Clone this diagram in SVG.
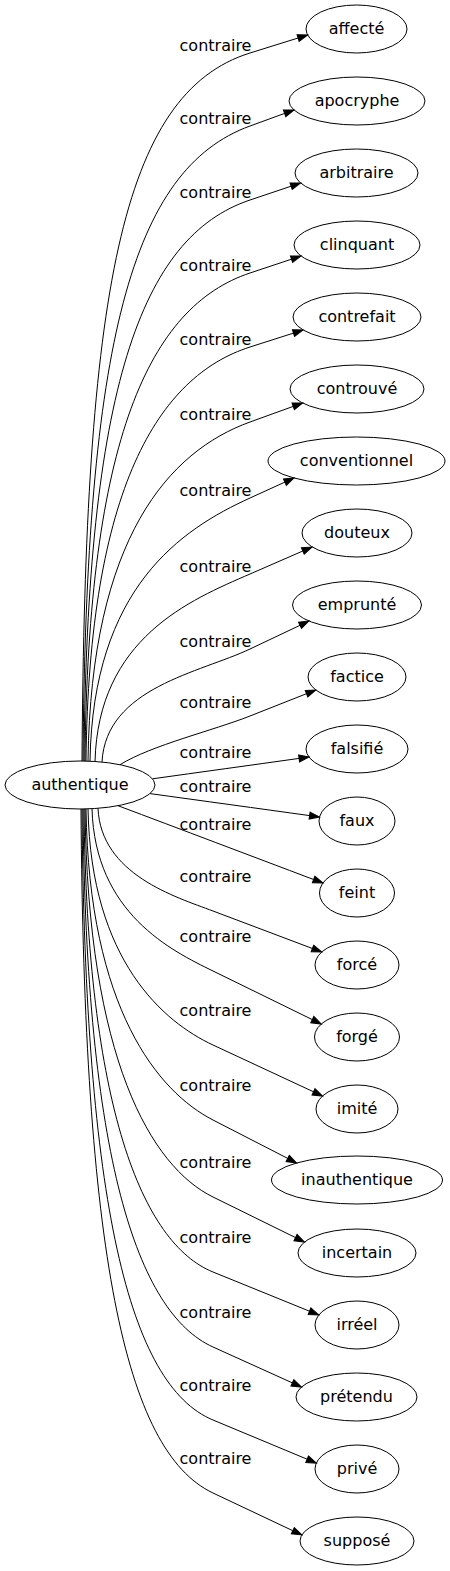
<svg xmlns="http://www.w3.org/2000/svg" width="450" height="1571" viewBox="0 0 450 1571">
<style>
.n ellipse{fill:none;stroke:#000;stroke-width:1}
text{font-family:"DejaVu Sans",sans-serif;font-size:16px;fill:#000;text-anchor:middle}
.e path{fill:none;stroke:#000;stroke-width:1;marker-end:url(#ah)}
</style>
<defs>
<marker id="ah" viewBox="0 0 10 7" refX="0" refY="3.5" markerWidth="10" markerHeight="7" markerUnits="userSpaceOnUse" orient="auto" overflow="visible"><path d="M0,0 L10,3.5 L0,7 Z" fill="#000" stroke="#000" stroke-width="1"/></marker>
</defs>
<rect width="450" height="1571" fill="#fff"/>
<g id="edges" class="e">
<path d="M82,761 C85,293.7 120.6,93.4 250,53 L298.1,38"/>
<path d="M83,761 C86,341.9 131.8,169 250,126 L284.6,113.4"/>
<path d="M84,761 C87,390.7 140.3,236.8 250,200 L291.1,186.2"/>
<path d="M85,761 C88,438.9 149.5,306.5 250,273 L291.5,259.2"/>
<path d="M86,761 C89,487.8 158.7,376.2 250,347 L293.5,333.1"/>
<path d="M88,761 C91,537.3 169.3,451.2 250,422 L293.2,406.4"/>
<path d="M90,761 C93,587.4 181.3,529.3 250,498 L284.9,482.1"/>
<path d="M95,762 C98,638 190,600.1 250,574 L302.8,551"/>
<path d="M102,762 C106,687.4 200.1,672.7 250,649 L300,625.3"/>
<path d="M120,764.7 C152,745 212.8,730.7 250,716 L306.5,693.7"/>
<path d="M152.5,778.8 C200,772.2 250,765.3 299.1,758.4"/>
<path d="M150,793.6 C200,800.5 260,808.7 309.6,815.6"/>
<path d="M118,805.7 C180,829 250,855.5 313.6,879.5"/>
<path d="M98,808.3 C101,874.5 175.3,896.8 213,911 L312.4,948.5"/>
<path d="M92,808.7 C95,913.4 171.5,950.7 213,971 L312.3,1019.6"/>
<path d="M88,809 C91,961.2 164.4,1022.4 213,1045 L313.5,1091.8"/>
<path d="M86,809 C89,1009.6 158.7,1092.1 213,1120 L287.7,1158.4"/>
<path d="M85,809 C88,1059.3 151.3,1166.7 213,1197 L295.5,1237.6"/>
<path d="M84,809 C87,1107.6 142.3,1243.2 213,1272 L309.5,1311.2"/>
<path d="M83,809 C86,1156 136.7,1312.5 213,1347 L292.4,1382.9"/>
<path d="M82,809 C85,1203.1 128.9,1385 213,1420 L307.1,1459.2"/>
<path d="M81,809 C84,1250.2 124,1450.9 213,1493 L292.8,1530.7"/>
</g>
<g id="labels">
<text x="215.5" y="51">contraire</text>
<text x="215.5" y="124">contraire</text>
<text x="215.5" y="198">contraire</text>
<text x="215.5" y="271">contraire</text>
<text x="215.5" y="345">contraire</text>
<text x="215.5" y="420">contraire</text>
<text x="215.5" y="496">contraire</text>
<text x="215.5" y="572">contraire</text>
<text x="215.5" y="647">contraire</text>
<text x="215.5" y="708">contraire</text>
<text x="215.5" y="758">contraire</text>
<text x="215.5" y="792">contraire</text>
<text x="215.5" y="830">contraire</text>
<text x="215.5" y="882">contraire</text>
<text x="215.5" y="942">contraire</text>
<text x="215.5" y="1016">contraire</text>
<text x="215.5" y="1091">contraire</text>
<text x="215.5" y="1168">contraire</text>
<text x="215.5" y="1243">contraire</text>
<text x="215.5" y="1318">contraire</text>
<text x="215.5" y="1391">contraire</text>
<text x="215.5" y="1464">contraire</text>
</g>
<g id="authentique" class="n"><ellipse cx="80" cy="785" rx="75" ry="24"/><text x="80" y="790">authentique</text></g>
<g id="affecte" class="n"><ellipse cx="356.5" cy="29" rx="50.5" ry="24"/><text x="356.5" y="34">affecté</text></g>
<g id="apocryphe" class="n"><ellipse cx="357" cy="101" rx="68" ry="24"/><text x="357" y="106">apocryphe</text></g>
<g id="arbitraire" class="n"><ellipse cx="356.5" cy="173" rx="61.5" ry="24"/><text x="356.5" y="178">arbitraire</text></g>
<g id="clinquant" class="n"><ellipse cx="357" cy="245" rx="63" ry="24"/><text x="357" y="250">clinquant</text></g>
<g id="contrefait" class="n"><ellipse cx="357" cy="317" rx="64" ry="24"/><text x="357" y="322">contrefait</text></g>
<g id="controuve" class="n"><ellipse cx="357" cy="389" rx="67" ry="24"/><text x="357" y="394">controuvé</text></g>
<g id="conventionnel" class="n"><ellipse cx="356.5" cy="461" rx="88.5" ry="24"/><text x="356.5" y="466">conventionnel</text></g>
<g id="douteux" class="n"><ellipse cx="357" cy="533" rx="55" ry="24"/><text x="357" y="538">douteux</text></g>
<g id="emprunte" class="n"><ellipse cx="357" cy="605" rx="64.5" ry="24"/><text x="357" y="610">emprunté</text></g>
<g id="factice" class="n"><ellipse cx="357" cy="677" rx="49" ry="24"/><text x="357" y="682">factice</text></g>
<g id="falsifie" class="n"><ellipse cx="357" cy="749" rx="51" ry="24"/><text x="357" y="754">falsifié</text></g>
<g id="faux" class="n"><ellipse cx="357" cy="821" rx="38" ry="24"/><text x="357" y="826">faux</text></g>
<g id="feint" class="n"><ellipse cx="357" cy="893" rx="37.5" ry="24"/><text x="357" y="898">feint</text></g>
<g id="force" class="n"><ellipse cx="357" cy="965" rx="42" ry="24"/><text x="357" y="970">forcé</text></g>
<g id="forge" class="n"><ellipse cx="357" cy="1037" rx="42.5" ry="24"/><text x="357" y="1042">forgé</text></g>
<g id="imite" class="n"><ellipse cx="357" cy="1109" rx="41" ry="24"/><text x="357" y="1114">imité</text></g>
<g id="inauthentique" class="n"><ellipse cx="357" cy="1180" rx="85.5" ry="24"/><text x="357" y="1185">inauthentique</text></g>
<g id="incertain" class="n"><ellipse cx="357" cy="1253" rx="59" ry="24"/><text x="357" y="1258">incertain</text></g>
<g id="irreel" class="n"><ellipse cx="357" cy="1325" rx="42" ry="24"/><text x="357" y="1330">irréel</text></g>
<g id="pretendu" class="n"><ellipse cx="356.5" cy="1397" rx="60.5" ry="24"/><text x="356.5" y="1402">prétendu</text></g>
<g id="prive" class="n"><ellipse cx="357" cy="1469" rx="42" ry="24"/><text x="357" y="1474">privé</text></g>
<g id="suppose" class="n"><ellipse cx="357" cy="1541" rx="57" ry="24"/><text x="357" y="1546">supposé</text></g>
</svg>
